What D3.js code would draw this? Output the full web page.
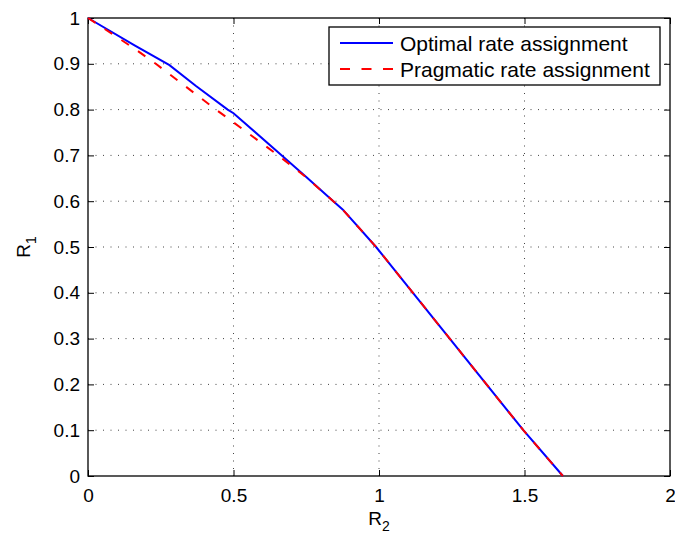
<!DOCTYPE html>
<html>
<head>
<meta charset="utf-8">
<script src="https://cdn.jsdelivr.net/npm/d3@7"></script>
<style>
  body { margin: 0; background: #fff; }
  svg text { font-family: "Liberation Sans", Arial, sans-serif; fill: #000; }
</style>
</head>
<body>
<svg width="675" height="536"></svg>
<script>
// data
var optR2 = [0, 0.16, 0.28, 0.37, 0.48, 0.5, 0.666, 0.75, 0.843, 0.875, 0.99, 1.496, 1.632];
var optR1 = [1, 0.94, 0.897, 0.852, 0.8, 0.792, 0.7, 0.653, 0.6, 0.582, 0.5, 0.1, 0];
var pragR2 = [0, 0.16, 0.233, 0.44, 0.654, 0.75, 0.843, 0.875, 0.99, 1.496, 1.632];
var pragR1 = [1, 0.933, 0.9, 0.8, 0.7, 0.652, 0.6, 0.582, 0.5, 0.1, 0];
var xTicks = [0, 0.5, 1, 1.5, 2];
var yTicks = [0, 0.1, 0.2, 0.3, 0.4, 0.5, 0.6, 0.7, 0.8, 0.9, 1];
var seriesNames = ["Optimal rate assignment", "Pragmatic rate assignment"];

var svg = d3.select("svg"),
    margin = {top: 18, right: 5, bottom: 60, left: 88},
    width = 582,
    height = 458;

var g = svg.append("g").attr("transform", "translate(" + margin.left + "," + margin.top + ")");

var x = d3.scaleLinear().domain([0, 2]).range([0, width]);
var y = d3.scaleLinear().domain([0, 1]).range([height, 0]);

// grid
g.append("g").selectAll("line")
    .data(xTicks.slice(1, -1))
    .enter().append("line")
    .attr("x1", function (d) { return x(d); })
    .attr("x2", function (d) { return x(d); })
    .attr("y1", 0).attr("y2", height)
    .attr("stroke", "#444").attr("stroke-width", 1)
    .attr("stroke-dasharray", "1,6.5");

g.append("g").selectAll("line")
    .data(yTicks.slice(1, -1))
    .enter().append("line")
    .attr("y1", function (d) { return y(d); })
    .attr("y2", function (d) { return y(d); })
    .attr("x1", 0).attr("x2", width)
    .attr("stroke", "#444").attr("stroke-width", 1)
    .attr("stroke-dasharray", "1,6.5");

// axes with inward ticks, mirrored top/right
var fmt = function (d) { return String(d); };
var xAxis = g.append("g").attr("transform", "translate(0," + height + ")")
    .call(d3.axisBottom(x).tickValues(xTicks).tickFormat(fmt).tickSizeInner(-6).tickSizeOuter(0).tickPadding(13));
var yAxis = g.append("g")
    .call(d3.axisLeft(y).tickValues(yTicks).tickFormat(fmt).tickSizeInner(-6).tickSizeOuter(0).tickPadding(8));
g.append("g")
    .call(d3.axisTop(x).tickValues(xTicks).tickFormat("").tickSizeInner(-6).tickSizeOuter(0));
g.append("g").attr("transform", "translate(" + width + ",0)")
    .call(d3.axisRight(y).tickValues(yTicks).tickFormat("").tickSizeInner(-6).tickSizeOuter(0));

g.selectAll(".domain").remove();
g.selectAll(".tick line").attr("stroke", "#000");
g.selectAll(".tick text").style("font-size", "19px").style("font-family", "Liberation Sans, Arial, sans-serif");
xAxis.selectAll(".tick text").attr("dy", "0.71em");

g.append("rect")
    .attr("width", width).attr("height", height)
    .attr("fill", "none").attr("stroke", "#000").attr("stroke-width", 1.3);

// curves
var line = d3.line()
    .x(function (d) { return x(d[0]); })
    .y(function (d) { return y(d[1]); });

var optData = optR2.map(function (v, i) { return [v, optR1[i]]; });
var pragData = pragR2.map(function (v, i) { return [v, pragR1[i]]; });

g.append("path").datum(optData)
    .attr("d", line)
    .attr("fill", "none").attr("stroke", "#0000ff").attr("stroke-width", 2);

g.append("path").datum(pragData)
    .attr("d", line)
    .attr("fill", "none").attr("stroke", "#ff0000").attr("stroke-width", 2)
    .attr("stroke-dasharray", "9,11");

// axis labels
var xl = svg.append("text")
    .attr("x", margin.left + width / 2).attr("y", 525)
    .attr("text-anchor", "middle").style("font-size", "19px");
xl.append("tspan").text("R");
xl.append("tspan").attr("dy", 6).style("font-size", "14px").text("2");

var yl = svg.append("text")
    .attr("transform", "translate(30," + (margin.top + height / 2) + ") rotate(-90)")
    .attr("text-anchor", "middle").style("font-size", "19px");
yl.append("tspan").text("R");
yl.append("tspan").attr("dy", 6).style("font-size", "14px").text("1");

// legend
var legend = svg.append("g").attr("transform", "translate(329,27)");
legend.append("rect")
    .attr("width", 331).attr("height", 58)
    .attr("fill", "#fff").attr("stroke", "#000").attr("stroke-width", 1.3);

var legColors = ["#0000ff", "#ff0000"];
var legDash = [null, "10,11.5"];
seriesNames.forEach(function (name, i) {
    var ly = 16 + i * 26;
    legend.append("line")
        .attr("x1", 11).attr("x2", 64)
        .attr("y1", ly).attr("y2", ly)
        .attr("stroke", legColors[i]).attr("stroke-width", 2)
        .attr("stroke-dasharray", legDash[i]);
    legend.append("text")
        .attr("x", 71).attr("y", ly)
        .attr("dy", "0.36em")
        .style("font-size", "21px")
        .text(name);
});
</script>
</body>
</html>
